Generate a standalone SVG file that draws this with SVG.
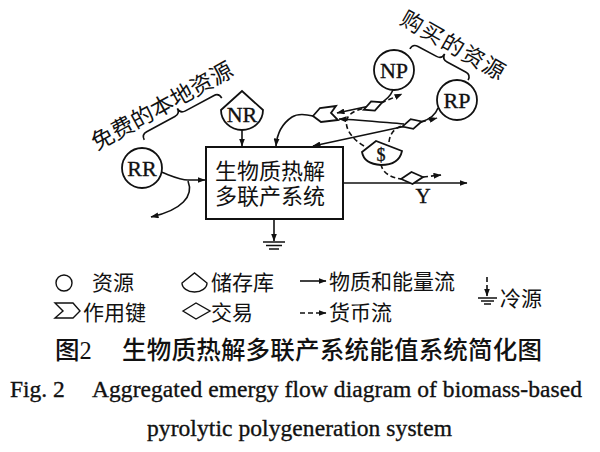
<svg xmlns="http://www.w3.org/2000/svg" width="600" height="452" viewBox="0 0 600 452">
<style>
.ln{fill:none;stroke:#111;stroke-width:1.6}
.ds{fill:none;stroke:#111;stroke-width:1.6;stroke-dasharray:5,3}
.sh{fill:#fff;stroke:#111;stroke-width:1.8}
.cj{font-family:"Noto Sans CJK SC",sans-serif;fill:#111}
.lt{font-family:"Liberation Serif",serif;fill:#111;stroke:#111;stroke-width:0.35}
</style>
<defs>
<marker id="arr" markerUnits="userSpaceOnUse" markerWidth="8" markerHeight="6" refX="7.5" refY="3" orient="auto">
<path d="M0,0 L8,3 L0,6 Z" fill="#111"/>
</marker>
</defs>
<rect width="600" height="452" fill="#fff"/>

<g id="connectors">
<path class="ln" d="M242,130 L242,146" marker-end="url(#arr)"/>
<path class="ln" d="M161,172 C172,176 180,180 188,180 L205,180" marker-end="url(#arr)"/>
<path class="ln" d="M188,181 C194,196 182,210 151,217" marker-end="url(#arr)"/>
<path class="ln" d="M393,90 C390,97 385,101 379,104 L337,113" marker-end="url(#arr)"/>
<path class="ln" d="M438,108 C435,116 428,120 421,122"/>
<path class="ln" d="M404,124 C380,122 360,120 339,119" marker-end="url(#arr)"/>
<path class="ln" d="M406,126 L313,146" marker-end="url(#arr)"/>
<path class="ln" d="M313,116 C305,114 298,113 292,117 C283,123 277,133 276,146" marker-end="url(#arr)"/>
<path class="ln" d="M343,183 L467,183" marker-end="url(#arr)"/>
<path class="ln" d="M274,219 L274,241" marker-end="url(#arr)"/>
<path class="ds" d="M364,146 C350,138 343,125 348,117 C352,111 360,109 366,108"/>
<path class="ds" d="M381,103 L402,94" marker-end="url(#arr)"/>
<path class="ds" d="M389,142 C390,133 395,127 405,125"/>
<path class="ds" d="M421,122 L437,118" marker-end="url(#arr)"/>
<path class="ds" d="M381,164 C382,172 390,178 402,179"/>
<path class="ds" d="M423,177 L441,175" marker-end="url(#arr)"/>
</g>

<g id="system">
<rect x="206" y="147" width="137" height="72" fill="#fff" stroke="#111" stroke-width="2"/>
<text class="cj" x="215" y="179" font-size="22" textLength="110">生物质热解</text>
<text class="cj" x="215" y="204" font-size="22" textLength="110">多联产系统</text>
</g>

<g id="heat-sink">
<path class="ln" d="M263,242 L285,242 M266,245.5 L282,245.5 M269,249 L279,249"/>
</g>

<g id="RR">
<circle class="sh" cx="142" cy="168" r="20"/>
<text class="lt" x="142" y="176" font-size="22" text-anchor="middle">RR</text>
</g>

<g id="NR">
<path class="sh" d="M221,110 L242,91 L263,110 A21,20 0 0 1 221,110 Z"/>
<text class="lt" x="242" y="122" font-size="22" text-anchor="middle">NR</text>
</g>

<g id="NP">
<circle class="sh" cx="394" cy="70" r="20"/>
<text class="lt" x="394" y="78" font-size="22" text-anchor="middle">NP</text>
</g>

<g id="RP">
<circle class="sh" cx="457" cy="100" r="20"/>
<text class="lt" x="457" y="108" font-size="22" text-anchor="middle">RP</text>
</g>

<g id="workgate">
<polygon class="sh" points="313,116 320,108 336,106 331,113 338,120 321,122"/>
</g>

<g id="tx-NP">
<polygon class="sh" transform="translate(373,106) rotate(-22)" points="-10,0 0,-5 10,0 0,5"/>
</g>
<g id="tx-RP">
<polygon class="sh" transform="translate(412,124) rotate(-15)" points="-10,0 0,-5 10,0 0,5"/>
</g>
<g id="tx-Y">
<polygon class="sh" transform="translate(412,178) rotate(-5)" points="-11,0 0,-6 11,0 0,6"/>
<text class="lt" x="423" y="203" font-size="21" text-anchor="middle">Y</text>
</g>

<g id="money">
<path class="sh" d="M362,152 L376,141 L402,151 Q399,165 381,165 Q364,164 362,152 Z"/>
<text class="lt" x="381" y="161" font-size="18" text-anchor="middle">$</text>
</g>

<g id="brace-free">
<path class="ln" transform="translate(183,119) rotate(-28.3)" d="M-44,0 Q-44,-6 -38,-6 L-6,-6 Q0,-6 0,-12 Q0,-6 6,-6 L38,-6 Q44,-6 44,0"/>
<text class="cj" transform="translate(162,106) rotate(-28.8)" x="0" y="8" font-size="22.5" text-anchor="middle" textLength="158">免费的本地资源</text>
</g>

<g id="brace-bought">
<path class="ln" transform="translate(439,64.5) rotate(28.1)" d="M-33,0 Q-33,-6 -27,-6 L-6,-6 Q0,-6 0,-12 Q0,-6 6,-6 L27,-6 Q33,-6 33,0"/>
<text class="cj" transform="translate(453,45) rotate(29.7)" x="0" y="8" font-size="22" text-anchor="middle" textLength="116">购买的资源</text>
</g>

<g id="legend">
<circle cx="64" cy="283" r="8" fill="none" stroke="#111" stroke-width="1.4"/>
<text class="cj" x="92" y="290" font-size="21">资源</text>
<path d="M182,283 L194.5,273 L207,283 A12.5,9 0 0 1 182,283 Z" fill="none" stroke="#111" stroke-width="1.4"/>
<text class="cj" x="211" y="290" font-size="21">储存库</text>
<path class="ln" d="M300,281 L326,281" marker-end="url(#arr)"/>
<text class="cj" x="329" y="289" font-size="21">物质和能量流</text>
<polygon points="55,303 73,303 80,311 73,318 55,318 63,311" fill="none" stroke="#111" stroke-width="1.4"/>
<text class="cj" x="83" y="320" font-size="21">作用键</text>
<polygon points="183,311 196,303 210,311 196,319" fill="none" stroke="#111" stroke-width="1.4"/>
<text class="cj" x="211" y="320" font-size="21">交易</text>
<path class="ds" d="M300,313 L326,313" stroke-dasharray="4,3" marker-end="url(#arr)"/>
<text class="cj" x="329" y="320" font-size="21">货币流</text>
<path class="ds" d="M487,277 L487,296" stroke-dasharray="3,2" marker-end="url(#arr)"/>
<path class="ln" d="M478,298 L497,298 M481,301 L494,301 M484,304 L491,304"/>
<text class="cj" x="500" y="306" font-size="21">冷源</text>
</g>

<g id="caption">
<text class="cj" x="55" y="359" font-size="24.5" font-weight="500">图<tspan font-family="Liberation Serif">2</tspan></text>
<text class="cj" x="122" y="359" font-size="24.5" font-weight="500" textLength="420">生物质热解多联产系统能值系统简化图</text>
<text class="lt" x="10" y="397" font-size="23.5">Fig. 2</text>
<text class="lt" x="92" y="397" font-size="23.5" textLength="490">Aggregated emergy flow diagram of biomass-based</text>
<text class="lt" x="147" y="436" font-size="23.5" textLength="305">pyrolytic polygeneration system</text>
</g>
</svg>
